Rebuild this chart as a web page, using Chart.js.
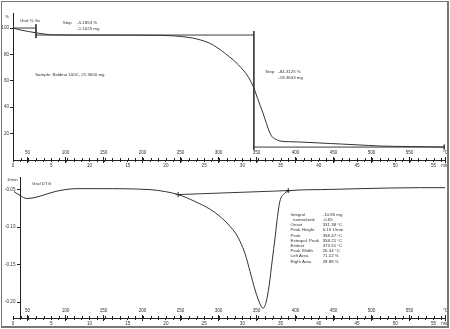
<!DOCTYPE html>
<html>
<head>
<meta charset="utf-8">
<script src="https://cdn.jsdelivr.net/npm/chart.js@4.4.1/dist/chart.umd.min.js"></script>
<style>
    html, body { margin: 0; padding: 0; background: #fff; }
    #quadro { position: relative; width: 450px; height: 329px; overflow: hidden; }
    #quadro canvas { position: absolute; left: 0; }
    #tga { top: 0; }
    #dtg { top: 172px; }
    #moldura {
        position: absolute; left: 1px; top: 1px; width: 445px; height: 324px;
        border: 1px solid #777; border-right-width: 2px; border-bottom-width: 2px;
        pointer-events: none;
    }
</style>
</head>
<body>
<div id="quadro">
    <canvas id="tga" width="450" height="172"></canvas>
    <canvas id="dtg" width="450" height="157"></canvas>
    <div id="moldura"></div>
</div>
<script>
// TGA: massa (%) x tempo (min)
const tempoTga = [0, 0.9, 2, 3.1, 4.3, 5.5, 8, 12, 16, 19, 20.5, 22, 23.5, 24.5, 25.7, 26.7, 27.8, 28.8, 29.5, 30.1,
    30.6, 31.0, 31.4, 31.7, 32.0, 32.3, 32.7, 33.0, 33.3, 33.6, 33.9, 34.3, 34.9, 36, 37.6, 41.5, 45, 48, 52, 56.3];
const massaTga = [100, 98.6, 97.4, 96.3, 95.3, 94.8, 94.7, 94.7, 94.6, 94.5, 94.2, 93.6, 92.4, 91.0, 88.6, 85.2, 80.5, 75.8, 72.0, 68.2,
    64.5, 60.6, 56.0, 51.5, 46.5, 41.7, 35.5, 30.3, 25.0, 20.5, 17.5, 15.9, 14.4, 13.9, 13.6, 12.5, 11.5, 10.6, 10.2, 9.8];

// DTG (1/min) x tempo (min)
const tempoDtg = [0.13, 0.92, 1.83, 2.88, 4.19, 5.5, 6.81, 8.38, 11.4, 17.9, 19.9, 21.6, 23.8, 25.8, 27.1, 28.4, 29.1, 29.7,
    30.4, 31.0, 31.7, 32.3, 32.7, 33.1, 33.5, 33.9, 34.3, 34.6, 34.9, 35.5, 36.3, 40.2, 45.4, 53.3, 56.5];
const valorDtg = [-0.0526, -0.0579, -0.0618, -0.0605, -0.0566, -0.0526, -0.0500, -0.0487, -0.0487, -0.0500, -0.0526, -0.0566,
    -0.0658, -0.0763, -0.0860, -0.0990, -0.1080, -0.1190, -0.1370, -0.1590, -0.1850, -0.2020, -0.2080, -0.2000, -0.1776,
    -0.1447, -0.1118, -0.0855, -0.0658, -0.0553, -0.0513, -0.0500, -0.0487, -0.0474, -0.0474];

// marcas de avaliação dos degraus (tempo, valor)
const degrauInicio = [[0, 100], [3.0, 100]];
const degrauMarca = [[3.0, 102.8], [3.0, 92.4]];
const degrauPatamar = [[3.0, 94.7], [31.5, 94.7]];
const degrauVertical = [[31.5, 97.7], [31.5, 7.6]];
const degrauResiduo = [[31.5, 9.8], [56.4, 9.8]];
const degrauFim = [[56.4, 11.6], [56.4, 8.0]];
const linhaBaseDtg = [[21.6, -0.0566], [36.0, -0.0513]];

// eixos
const tempoMax = 56.5;
const temperaturaInicial = 31.7; // °C em t = 0, 10 K/min
const rotulosTempo = [0, 5, 10, 15, 20, 25, 30, 35, 40, 45, 50, 55];
const rotulosTemperatura = [50, 100, 150, 200, 250, 300, 350, 400, 450, 500, 550];
const rotulosMassa = [20, 40, 60, 80, 100];
const rotulosDtg = [-0.20, -0.15, -0.10, -0.05];

// textos
const textosTga = [
    [-1.05, 108.3, '%'],
    [0.92, 105.3, 'Graf % Sx'],
    [6.5, 103.8, 'Step'], [8.4, 103.8, '-5.1853 %'], [8.4, 99.2, '-1.1025 mg'],
    [2.9, 64.4, 'Sample: Boldino 100C, 21.3000 mg'],
    [33.0, 66.7, 'Step'], [34.7, 66.7, '-84.3125 %'], [34.7, 62.1, '-18.3603 mg'],
];
const textosDtg = [
    [-0.8, -0.0368, '1/min'],
    [2.5, -0.0421, 'Graf DTG'],
];
const nomesResultado = ['Integral', '  normalized', 'Onset', 'Peak Height', 'Peak', 'Extrapol. Peak', 'Endset', 'Peak Width', 'Left Area', 'Right Area'];
const valoresResultado = ['-10.85 mg', '-0.65', '331.38 °C', '0.15 1/min', '358.47 °C', '358.21 °C', '373.51 °C', '26.34 °C', '71.12 %', '28.88 %'];

const fonte = 'Liberation Sans';
const corTexto = '#333';
const corLinha = '#3a3a3a';
const pontos = lista => lista.map(([x, y]) => ({ x, y }));

function linha(lista, extra = {}) {
    return { data: pontos(lista), borderColor: corLinha, borderWidth: 1, pointRadius: 0, ...extra };
}

function eixoTempo() {
    return {
        type: 'linear',
        min: 0,
        max: tempoMax,
        afterBuildTicks: escala => {
            const ticks = [];
            for (let m = 0; m <= 56; m++) ticks.push({ value: m });
            ticks.push({ value: tempoMax });
            escala.ticks = ticks;
        },
        afterFit: escala => { escala.height = escala.chart.height === 172 ? 12 : 11; },
        border: { color: '#222', width: 1 },
        grid: { drawOnChartArea: false, tickLength: 2, color: '#222' },
        ticks: {
            autoSkip: false, maxRotation: 0, padding: 1, color: corTexto,
            font: { family: fonte, size: 4.6 },
            callback: valor => valor === tempoMax ? 'min' : (rotulosTempo.includes(valor) ? String(valor) : ''),
        },
    };
}

function eixoTemperatura() {
    return {
        type: 'linear', axis: 'x', position: 'bottom', display: false,
        min: temperaturaInicial,
        max: temperaturaInicial + 10 * tempoMax,
    };
}

// rótulos de temperatura e marcas cruzando o eixo do tempo
const marcasEixo = {
    id: 'marcasEixo',
    afterDraw(chart) {
        const { ctx, chartArea, scales } = chart;
        const base = chartArea.bottom;
        ctx.save();
        ctx.strokeStyle = '#222';
        ctx.lineWidth = 1;
        scales.x.ticks.forEach(tick => {
            const px = Math.round(scales.x.getPixelForValue(tick.value)) + 0.5;
            ctx.beginPath();
            ctx.moveTo(px, base - 2);
            ctx.lineTo(px, base);
            ctx.stroke();
        });
        ctx.font = `4.6px "${fonte}"`;
        ctx.fillStyle = corTexto;
        ctx.textAlign = 'center';
        ctx.textBaseline = 'middle';
        [...rotulosTemperatura, scales.temp.max].forEach(valor => {
            const px = Math.round(scales.temp.getPixelForValue(valor)) + 0.5;
            ctx.beginPath();
            ctx.moveTo(px, base - 3);
            ctx.lineTo(px, base + 3);
            ctx.stroke();
            ctx.fillText(valor === scales.temp.max ? '°C' : String(valor), px, base - 7);
        });
        ctx.restore();
    },
};

function textos(id, lista, tabela) {
    return {
        id,
        afterDraw(chart) {
            const { ctx, scales } = chart;
            ctx.save();
            ctx.font = `4.4px "${fonte}"`;
            ctx.fillStyle = corTexto;
            ctx.textBaseline = 'middle';
            lista.forEach(([t, v, texto]) => {
                ctx.fillText(texto, scales.x.getPixelForValue(t), scales.y.getPixelForValue(v));
            });
            if (tabela) {
                const x1 = scales.x.getPixelForValue(tabela.t1);
                const x2 = scales.x.getPixelForValue(tabela.t2);
                const y0 = scales.y.getPixelForValue(tabela.v);
                tabela.nomes.forEach((nome, i) => {
                    ctx.fillText(nome, x1, y0 + i * 5.2);
                    ctx.fillText(tabela.valores[i], x2, y0 + i * 5.2);
                });
            }
            ctx.restore();
        },
    };
}

new Chart(document.getElementById('tga'), {
    type: 'line',
    data: {
        datasets: [
            linha(tempoTga.map((t, i) => [t, massaTga[i]]), { borderColor: '#333', cubicInterpolationMode: 'monotone' }),
            linha(degrauInicio),
            linha(degrauMarca),
            linha(degrauPatamar),
            linha(degrauVertical),
            linha(degrauResiduo),
            linha(degrauFim),
        ],
    },
    options: {
        responsive: false,
        animation: false,
        devicePixelRatio: 1,
        layout: { padding: { top: 13, right: 5, left: 0, bottom: 0 } },
        plugins: { legend: { display: false }, tooltip: { enabled: false } },
        scales: {
            x: eixoTempo(),
            temp: eixoTemperatura(),
            y: {
                type: 'linear',
                min: 0,
                max: 111.4,
                afterBuildTicks: escala => { escala.ticks = rotulosMassa.map(value => ({ value })); },
                afterFit: escala => { escala.width = 13; },
                border: { color: '#222', width: 1 },
                grid: { drawOnChartArea: false, tickLength: 3, color: '#222' },
                ticks: { padding: 1, color: corTexto, font: { family: fonte, size: 4.6 } },
            },
        },
    },
    plugins: [marcasEixo, textos('textosTga', textosTga)],
});

new Chart(document.getElementById('dtg'), {
    type: 'line',
    data: {
        datasets: [
            linha(tempoDtg.map((t, i) => [t, valorDtg[i]]), { borderColor: '#333', cubicInterpolationMode: 'monotone' }),
            linha(linhaBaseDtg, { pointRadius: 2.5, pointStyle: 'cross', pointBorderColor: '#222', pointBorderWidth: 1 }),
        ],
    },
    options: {
        responsive: false,
        animation: false,
        devicePixelRatio: 1,
        layout: { padding: { top: 4, right: 5, left: 13, bottom: 0 } },
        plugins: { legend: { display: false }, tooltip: { enabled: false } },
        scales: {
            x: eixoTempo(),
            temp: eixoTemperatura(),
            y: {
                type: 'linear',
                position: { x: 0.92 },
                min: -0.221,
                max: -0.0342,
                afterBuildTicks: escala => { escala.ticks = rotulosDtg.map(value => ({ value })); },
                border: { color: '#222', width: 1 },
                grid: { drawOnChartArea: false, tickLength: 3, color: '#222' },
                ticks: {
                    color: corTexto, font: { family: fonte, size: 4.6 },
                    callback: valor => valor.toFixed(2) + '\u2002\u2002',
                },
            },
        },
    },
    plugins: [marcasEixo, textos('textosDtg', textosDtg, {
        t1: 36.3, t2: 40.5, v: -0.0833, nomes: nomesResultado, valores: valoresResultado,
    })],
});
</script>
</body>
</html>
